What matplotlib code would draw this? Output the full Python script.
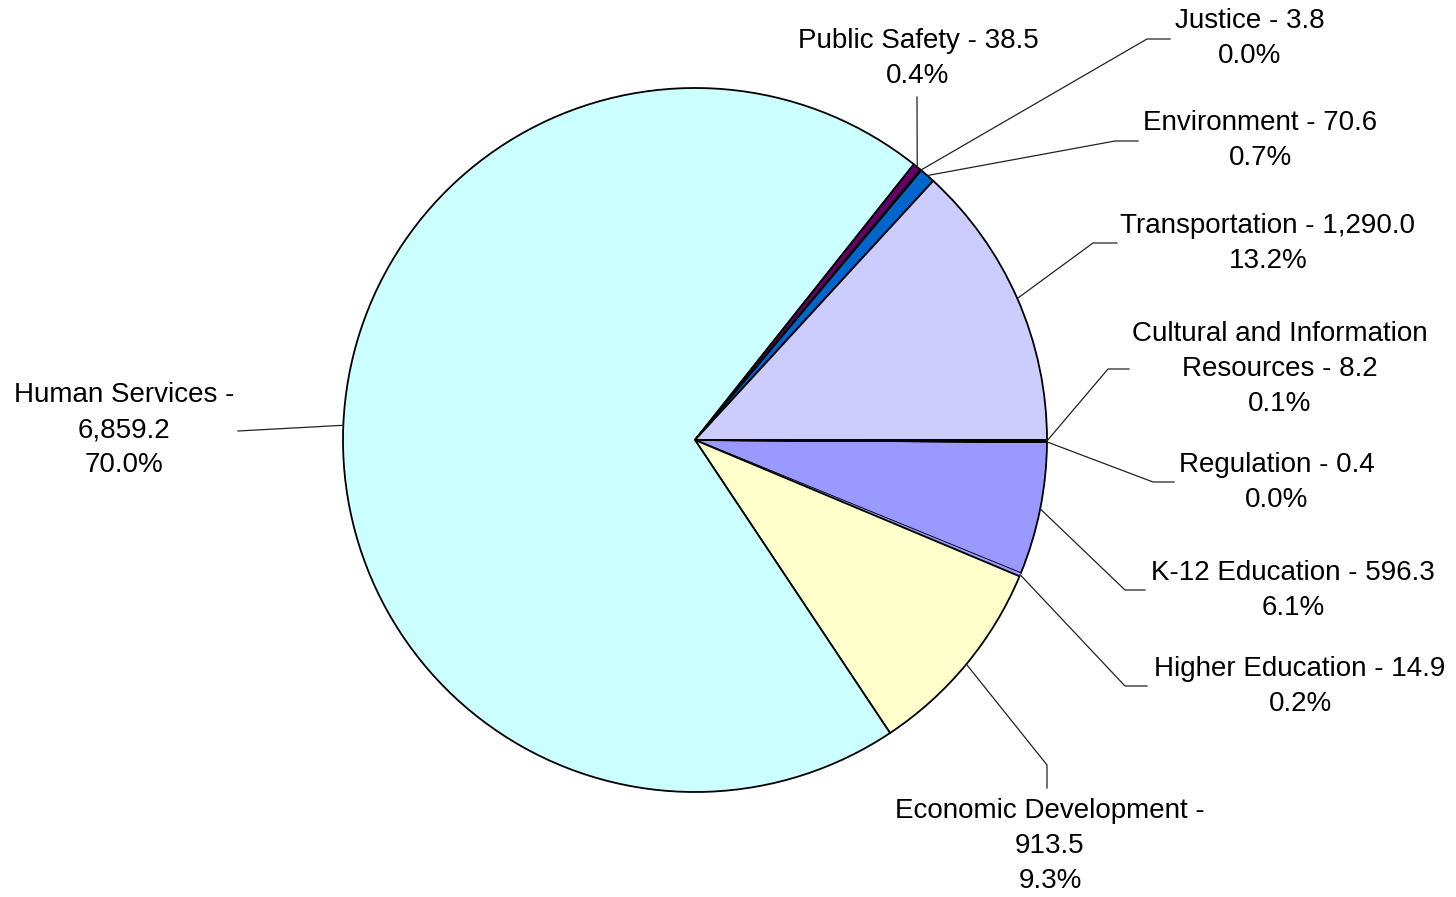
import matplotlib
matplotlib.use("AGG")
import numpy as np
from matplotlib import pyplot as plt

plt.rcParams['font.family'] = ['Liberation Sans', 'DejaVu Sans']

# data, in the order the slices are drawn (clockwise from 3 o'clock)
categories = ["K-12 Education", "Higher Education", "Economic Development",
              "Human Services", "Public Safety", "Justice", "Environment",
              "Transportation", "Cultural and Information Resources", "Regulation"]
amounts = [596.3, 14.9, 913.5, 6859.2, 38.5, 3.8, 70.6, 1290.0, 8.2, 0.4]
label_text = ["K-12 Education - 596.3", "Higher Education - 14.9",
              "Economic Development -\n913.5", "Human Services -\n6,859.2",
              "Public Safety - 38.5", "Justice - 3.8", "Environment - 70.6",
              "Transportation - 1,290.0", "Cultural and Information\nResources - 8.2",
              "Regulation - 0.4"]
# the higher education sliver is not visible in the original, so it shares K-12's fill
colors = ["#9999FF", "#9999FF", "#FFFFCC", "#CCFFFF", "#660066",
          "#FF8080", "#0066CC", "#CCCCFF", "#000080", "#FF00FF"]

W, H = 1456, 897
fig = plt.figure(figsize=(W / 100, H / 100), dpi=100)
ax = fig.add_axes([0, 0, 1, 1])

def py(y):
    return H - y

cx, cy, r = 695, 440, 352
total = sum(amounts)
start = -(amounts[8] + amounts[9]) / total * 360
wedges, _ = ax.pie(amounts, colors=colors, center=(cx, py(cy)), radius=r,
                   startangle=start, counterclock=False, frame=True,
                   wedgeprops=dict(edgecolor='black', linewidth=1.3))
# hide the boundary between K-12 and higher education
wedges[1].set_edgecolor('none')
ax.set_xlim(0, W)
ax.set_ylim(0, H)
ax.set_aspect('equal')
ax.axis('off')

# label layout: (text x, text y, elbow, end) in pixels
layout = {
    "K-12 Education": (1293, 590, (1125, 590), (1145, 590)),
    "Higher Education": (1300, 686, (1125, 686), (1147, 686)),
    "Economic Development": (1050, 846, (1047, 765), (1047, 788)),
    "Human Services": (124, 430, None, (238, 431)),
    "Public Safety": (918, 58, None, (917, 97)),
    "Justice": (1250, 38, (1147, 39), (1170, 39)),
    "Environment": (1260, 140, (1115, 141), (1138, 141)),
    "Transportation": (1268, 243, (1093, 243), (1117, 243)),
    "Cultural and Information Resources": (1280, 369, (1108, 369), (1129, 369)),
    "Regulation": (1277, 482, (1153, 482), (1174, 482)),
}

for w, cat, val, txt in zip(wedges, categories, amounts, label_text):
    tx, ty, elbow, end = layout[cat]
    pct = val / total * 100
    ax.text(tx, py(ty), f"{txt}\n{pct:.1f}%", ha='center', va='center',
            fontsize=20, linespacing=1.45, color='black')
    mid = np.deg2rad((w.theta1 + w.theta2) / 2)
    sx, sy = cx + r * np.cos(mid), py(cy) + r * np.sin(mid)
    pts = [(sx, sy)]
    if elbow is not None:
        pts.append((elbow[0], py(elbow[1])))
    pts.append((end[0], py(end[1])))
    xs, ys = zip(*pts)
    ax.plot(xs, ys, color='#222222', linewidth=0.9)

plt.savefig("out.png", dpi=100)
